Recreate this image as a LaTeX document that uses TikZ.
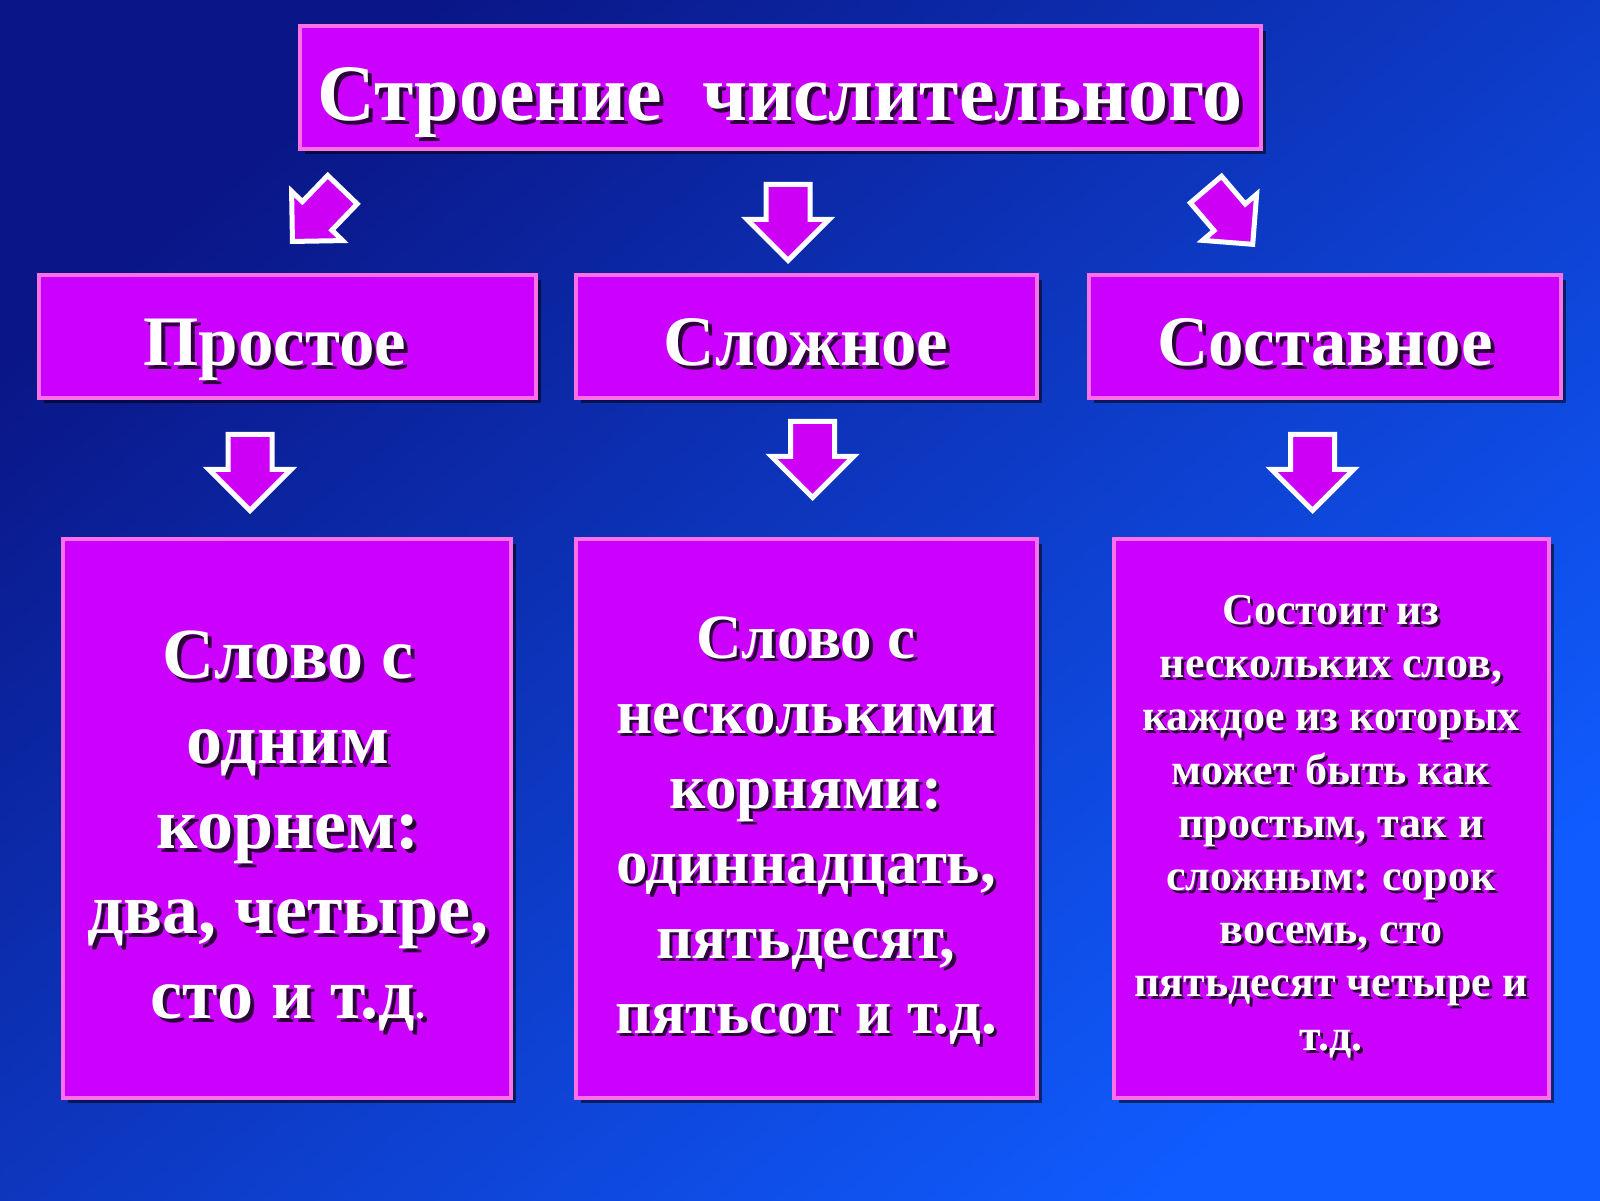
\documentclass[tikz,border=0pt]{standalone}
\usepackage{fontspec}
\setmainfont{Liberation Serif}
\usetikzlibrary{shapes.arrows,shadows}

\definecolor{bgdark}{RGB}{10,22,135}
\definecolor{bgmid}{RGB}{12,48,205}
\definecolor{bgbright}{RGB}{16,92,255}
\definecolor{boxfill}{RGB}{204,0,255}
\definecolor{boxline}{RGB}{255,112,232}
\definecolor{arrowfill}{RGB}{205,0,245}
\definecolor{textshadow}{RGB}{45,0,60}

% name, position, style, offset, text
\newcommand{\shadowtext}[5]{%
  \node[#3, text=textshadow] at ([shift={(#4,#4)}]#2) {#5};
  \node[#3, text=white] (#1) at (#2) {#5};
}

\begin{document}
\begin{tikzpicture}[x=0.5pt,y=-0.5pt]
\tikzset{bluebox/.style={rectangle, draw=boxline, line width=2pt, fill=boxfill,
  drop shadow={shadow xshift=2.5pt, shadow yshift=-2.5pt, fill=black, opacity=0.55}}}
\tikzset{downarrow/.style={single arrow, draw=white, line width=2.5pt, fill=arrowfill,
  inner xsep=0pt, inner ysep=9.75pt, minimum width=38.5pt, minimum height=38pt, single arrow head extend=9.5pt, anchor=tip}}
\tikzset{diagarrow/.style={downarrow, inner ysep=9pt, minimum width=33pt, minimum height=36pt, single arrow head extend=7.5pt}}
\tikzset{titletext/.style={font=\bfseries\fontsize{40pt}{48pt}\selectfont, anchor=base}}
\tikzset{headtext/.style={font=\bfseries\fontsize{35.5pt}{42pt}\selectfont, anchor=base}}
\tikzset{bigtext/.style={font=\bfseries\fontsize{36pt}{42.5pt}\selectfont, align=center, anchor=base}}
\tikzset{midtext/.style={font=\bfseries\fontsize{31.5pt}{37.5pt}\selectfont, align=center, anchor=base}}
\tikzset{smalltext/.style={font=\bfseries\fontsize{22pt}{26.6pt}\selectfont, align=center, anchor=base}}

\shade[top color=bgdark, middle color=bgmid, bottom color=bgbright, shading angle=40] (0,0) rectangle (1600,1200);
\useasboundingbox (0,0) rectangle (1600,1200);

% boxes
\node[bluebox, minimum width=480.5pt, minimum height=61.5pt] (titlebox) at (780.5,87.5) {};
\node[bluebox, minimum width=248.5pt, minimum height=61.5pt] (simple) at (287.5,336.5) {};
\node[bluebox, minimum width=230.5pt, minimum height=61.5pt] (complex) at (806.5,336.5) {};
\node[bluebox, minimum width=236pt, minimum height=61.5pt] (compound) at (1325,336.5) {};
\node[bluebox, minimum width=224pt, minimum height=279.5pt] (simpledef) at (287,818.5) {};
\node[bluebox, minimum width=230.5pt, minimum height=279.5pt] (complexdef) at (806.5,818.5) {};
\node[bluebox, minimum width=217.5pt, minimum height=279.5pt] (compounddef) at (1331.5,818.5) {};

% arrows
\node[diagarrow, rotate=226] (arrowA) at (290,244) {};
\node[downarrow, rotate=-90] (arrowB) at (788,264) {};
\node[diagarrow, rotate=-49.5] (arrowC) at (1255,247) {};
\node[downarrow, rotate=-90] (arrowD) at (250,514) {};
\node[downarrow, rotate=-90] (arrowE) at (812.5,501) {};
\node[downarrow, rotate=-90] (arrowF) at (1312.5,514) {};

% texts
\shadowtext{titletxt}{780,120}{titletext}{4}{Строение\ \ числительного}
\shadowtext{simpletxt}{275,365}{headtext}{4}{Простое}
\shadowtext{complextxt}{806,365}{headtext}{4}{Сложное}
\shadowtext{compoundtxt}{1325,365}{headtext}{4}{Составное}
\shadowtext{simpledeftxt}{288,1018}{bigtext}{4}{Слово с\\одним\\корнем:\\два, четыре,\\сто и т.д{\fontsize{20pt}{20pt}\selectfont.}}
\shadowtext{complexdeftxt}{806,1033}{midtext}{3.5}{Слово с\\несколькими\\корнями:\\одиннадцать,\\пятьдесят,\\пятьсот и т.д.}
\shadowtext{compounddeftxt}{1331,1050}{smalltext}{3}{Состоит из\\нескольких слов,\\каждое из которых\\может быть как\\простым, так и\\сложным: сорок\\восемь, сто\\пятьдесят четыре и\\т.д.}
\end{tikzpicture}
\end{document}
